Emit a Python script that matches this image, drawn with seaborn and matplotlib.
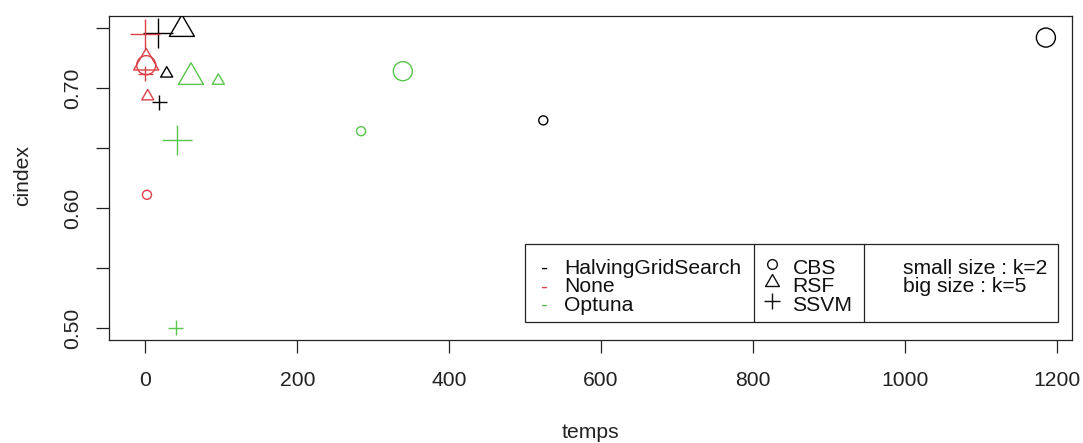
import matplotlib
matplotlib.use("Agg")
import numpy as np
import pandas as pd
import seaborn as sns
import matplotlib.pyplot as plt
from matplotlib.path import Path
from matplotlib.lines import Line2D
from matplotlib.patches import Rectangle

# ---------------- data ----------------
methods = ["HalvingGridSearch"] * 6 + ["None"] * 6 + ["Optuna"] * 6
models = ["CBS", "CBS", "RSF", "RSF", "SSVM", "SSVM"] * 3
ks = [2, 5, 2, 5, 2, 5] * 3
temps = [524, 1186, 28, 48, 18, 16,
         2, 1, 3, 1, 0, 0,
         284, 339, 96, 60, 40, 41]
cindex = [0.673, 0.742, 0.712, 0.749, 0.688, 0.746,
          0.611, 0.719, 0.693, 0.721, 0.712, 0.745,
          0.664, 0.714, 0.706, 0.709, 0.500, 0.657]

method_order = ["HalvingGridSearch", "None", "Optuna"]
model_order = ["CBS", "RSF", "SSVM"]
size_text = ["small size : k=2", "big size : k=5"]
x_ticks = [0, 200, 400, 600, 800, 1000, 1200]
y_ticks = [0.50, 0.55, 0.60, 0.65, 0.70, 0.75]
y_ticklabels = ["0.50", "", "0.60", "", "0.70", ""]

palette = {"HalvingGridSearch": "#000000", "None": "#DA4048", "Optuna": "#58C64A"}

tri = Path([(0, 1), (-0.866, -0.5), (0.866, -0.5), (0, 1)],
           [Path.MOVETO, Path.LINETO, Path.LINETO, Path.CLOSEPOLY])
markers = {"CBS": "o", "RSF": tri, "SSVM": "+"}
msize = {("CBS", 2): 6.5, ("CBS", 5): 13.7,
         ("RSF", 2): 10.0, ("RSF", 5): 20.8,
         ("SSVM", 2): 10.8, ("SSVM", 5): 21.6}

df = pd.DataFrame(dict(method=methods, model=models, k=ks,
                       temps=temps, cindex=cindex))

# ---------------- figure ----------------
W, H = 1083, 443
sns.set_style("white")
plt.rcParams["font.family"] = ["Liberation Sans", "DejaVu Sans"]
FS = 15.2

fig = plt.figure(figsize=(W / 100, H / 100), dpi=100)
L, R, T, B = 109, 1071.7, 15.5, 340
ax = fig.add_axes([L / W, 1 - B / H, (R - L) / W, (B - T) / H])

for (model, k), sub in df.groupby(["model", "k"]):
    n0 = len(ax.collections)
    sns.scatterplot(data=sub, x="temps", y="cindex", hue="method",
                    palette=palette, hue_order=method_order,
                    marker=markers[model], s=msize[(model, k)] ** 2,
                    linewidth=1.0, legend=False, ax=ax, zorder=3)
    for coll in ax.collections[n0:]:
        fc = coll.get_facecolors()
        coll.set_edgecolors(fc)
        coll.set_facecolors("none")
        coll.set_linewidths(1.0)

ax.set_xlim(-48, 1220)
ax.set_ylim(0.490, 0.7604)
ax.set_xticks(x_ticks)
ax.set_xticklabels([str(v) for v in x_ticks])
ax.set_yticks(y_ticks)
ax.set_yticklabels(y_ticklabels)
ax.tick_params(direction="out", length=9.1, width=0.9, colors="#222222",
               labelsize=FS, labelcolor="#222222")
ax.tick_params(axis="x", pad=13.5)
ax.tick_params(axis="y", pad=10.5)
ax.tick_params(left=True, bottom=True)
plt.setp(ax.get_yticklabels(), rotation=90, va="center")
for sp in ax.spines.values():
    sp.set_visible(True)
    sp.set_color("#222222")
    sp.set_linewidth(0.9)

ax.set_xlabel("temps", fontsize=FS, color="#222222")
ax.set_ylabel("cindex", fontsize=FS, color="#222222")
ax.xaxis.label.set_va("baseline")
ax.xaxis.set_label_coords(0.5, (B - 438) / (B - T))
ax.yaxis.label.set_va("baseline")
ax.yaxis.set_label_coords((28.3 - L) / (R - L), (B - 176) / (B - T))


# ---------------- legend (R style, drawn in pixel coords) ----------------
def fx(x):
    return x / W


def fy(y):
    return 1 - y / H


lx0, lx1, ly0, ly1 = 525, 1058, 243.7, 321.5
d1, d2 = 754.3, 864.3
fig.add_artist(Rectangle((fx(lx0), fy(ly1)), fx(lx1) - fx(lx0), fy(ly0) - fy(ly1),
                         transform=fig.transFigure, fill=True, facecolor="white",
                         edgecolor="#222222", linewidth=0.9, zorder=5))
for dx in (d1, d2):
    fig.add_artist(Line2D([fx(dx), fx(dx)], [fy(ly0), fy(ly1)],
                          transform=fig.transFigure, color="#222222",
                          linewidth=0.9, zorder=6))

baselines = [274.0, 292.5, 311.0]
for i, m in enumerate(method_order):
    fig.text(fx(545), fy(baselines[i]), "-", color=palette[m], fontsize=FS,
             ha="center", va="baseline", zorder=7)
    fig.text(fx(564), fy(baselines[i]), m, color="#111111", fontsize=FS,
             ha="left", va="baseline", zorder=7)

sym_y = [263.5, 281.5, 301.0]
sym_ms = [7.0, 11.5, 11.0]
for i, m in enumerate(model_order):
    fig.add_artist(Line2D([fx(772)], [fy(sym_y[i])], transform=fig.transFigure,
                          marker=markers[m], markersize=sym_ms[i],
                          markerfacecolor="none", markeredgecolor="#111111",
                          markeredgewidth=1.0, linestyle="none", zorder=7))
    fig.text(fx(792.5), fy(baselines[i]), m, color="#111111", fontsize=FS,
             ha="left", va="baseline", zorder=7)

for i, t in enumerate(size_text):
    fig.text(fx(903.3), fy(baselines[i]), t, color="#111111", fontsize=FS,
             ha="left", va="baseline", zorder=7)

fig.savefig("out.png", dpi=100, facecolor="white")
